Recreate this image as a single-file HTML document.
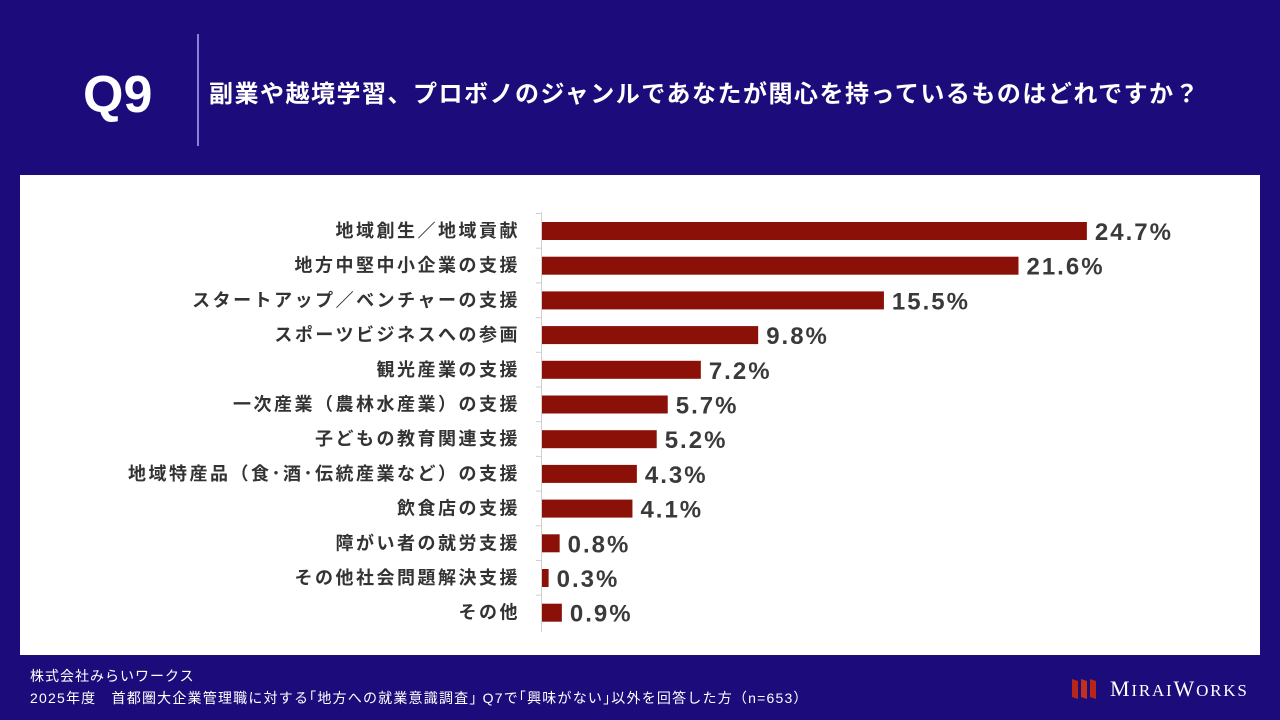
<!DOCTYPE html>
<html><head><meta charset="utf-8"><style>
body{margin:0;width:1280px;height:720px;background:#1c0b7a;overflow:hidden;font-family:"Liberation Sans","Noto Sans CJK JP",sans-serif;position:relative}
.abs{position:absolute}
</style></head><body>
<div class="abs" style="left:83px;top:65px;color:#fff;font-weight:bold;font-size:52px;line-height:60px">Q9</div>
<div class="abs" style="left:197px;top:34px;width:2px;height:112px;background:#8a80d8"></div>
<div class="abs" style="left:209px;top:78px;color:#fff;font-weight:bold;font-size:24px;letter-spacing:1.5px;line-height:34px;white-space:nowrap">副業や越境学習、プロボノのジャンルであなたが関心を持っているものはどれですか？</div>
<div class="abs" style="left:20px;top:175px;width:1240px;height:480px;background:#fff"></div>
<svg class="abs" style="left:0;top:0" width="1280" height="720" id="chart"></svg>
<div class="abs" style="left:30px;top:666px;color:#fff;font-size:14px;letter-spacing:1px;line-height:20px">株式会社みらいワークス</div>
<div class="abs" style="left:30px;top:688px;color:#fff;font-size:14px;letter-spacing:1.2px;line-height:20px;white-space:nowrap">2025年度　首都圏大企業管理職に対する｢地方への就業意識調査｣ Q7で｢興味がない｣以外を回答した方（n=653）</div>
<div class="abs" style="left:1070px;top:676px;height:26px;width:190px">
<svg width="30" height="26" style="position:absolute;left:0;top:0"><polygon points="2,3 8,5 8,23 2,21" fill="#b8261a"/><polygon points="11,3 17,5 17,23 11,21" fill="#c4301e"/><polygon points="20,3 26,5 26,23 20,21" fill="#b8261a"/></svg>
<span style="position:absolute;left:40px;top:0;color:#fff;font-family:'Liberation Serif',serif;font-size:22px;letter-spacing:1.8px;line-height:26px">M<span style="font-size:17px">IRAI</span>W<span style="font-size:17px">ORKS</span></span>
</div>
<script>
const categories=["地域創生／地域貢献","地方中堅中小企業の支援","スタートアップ／ベンチャーの支援","スポーツビジネスへの参画","観光産業の支援","一次産業（農林水産業）の支援","子どもの教育関連支援","地域特産品（食･酒･伝統産業など）の支援","飲食店の支援","障がい者の就労支援","その他社会問題解決支援","その他"];
const values=[24.7,21.6,15.5,9.8,7.2,5.7,5.2,4.3,4.1,0.8,0.3,0.9];
const svg=document.getElementById('chart');
const NS='http://www.w3.org/2000/svg';
const x0=542,pxPer=22.06,y0=222,step=34.7,bh=18;
const xs=v=>x0+v*pxPer;
const ys=i=>y0+i*step;
function mk(t,a){const e=document.createElementNS(NS,t);for(const k in a)e.setAttribute(k,a[k]);svg.appendChild(e);return e;}
const ax=mk('line',{x1:x0-0.5,x2:x0-0.5,y1:ys(0)-10,y2:ys(categories.length-1)+bh+10,stroke:'#d0d0d0','stroke-width':1});


categories.forEach((c,i)=>{
  const tk=mk('line',{x1:x0-6,x2:x0,y1:ys(i)-8.5,y2:ys(i)-8.5,stroke:'#d0d0d0'});
  
  
  const r=mk('rect',{x:x0,y:ys(i),width:Math.max(0,xs(values[i])-x0),height:bh,fill:'#8b1008'});
  
  
  const l=mk('text',{x:x0-22,y:ys(i)+bh/2+6,'text-anchor':'end','font-size':18,'letter-spacing':2.5,'font-weight':'bold',fill:'#333'});
  l.textContent=c;
  
  
  const v=mk('text',{x:xs(values[i])+8,y:ys(i)+bh/2+9,'font-size':24,'letter-spacing':2,'font-weight':'bold',fill:'#3a3a3a'});
  v.textContent=values[i].toFixed(1)+'%';
  
  
});
</script>
</body></html>
